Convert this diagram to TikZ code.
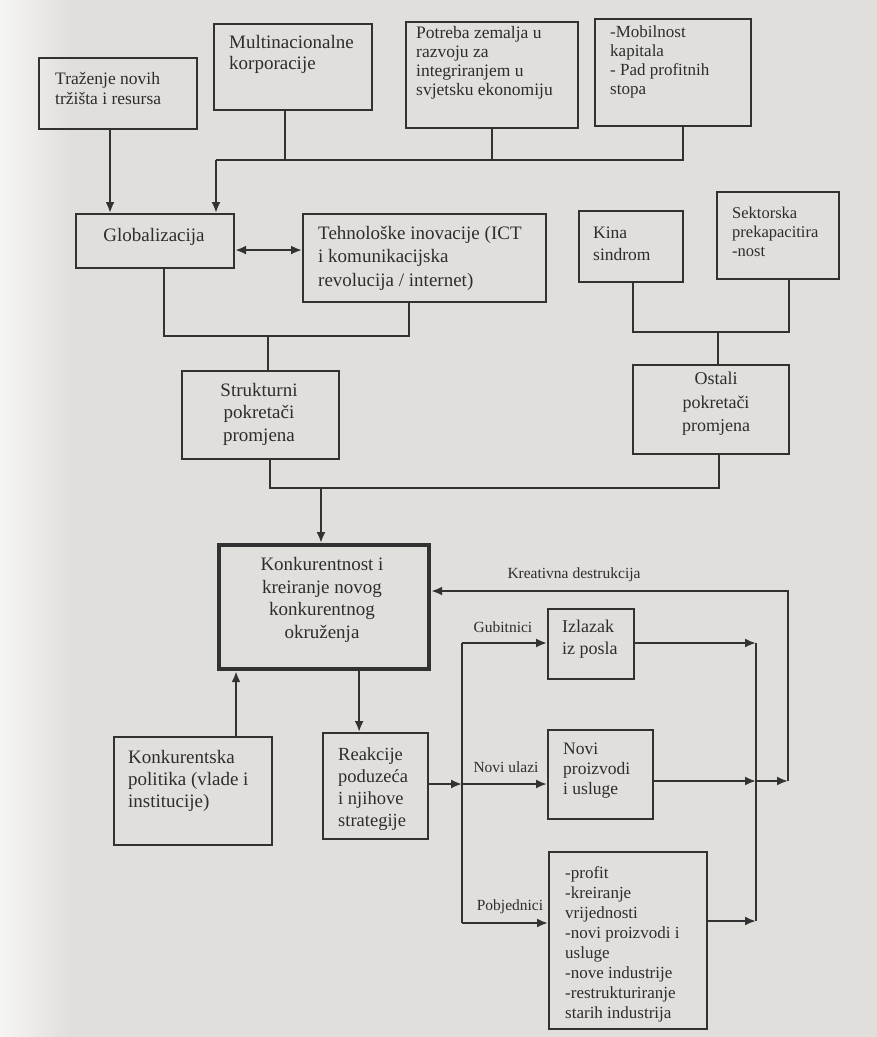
\documentclass[tikz,border=0pt]{standalone}
\usepackage{fontspec}
\setmainfont{Liberation Serif}
\usetikzlibrary{arrows.meta,calc}
\definecolor{bgc}{RGB}{225,223,219}
\definecolor{linec}{RGB}{50,50,50}
\definecolor{txtc}{RGB}{45,45,45}
\newcommand\myfs[2]{\fontsize{#1}{#2}\selectfont}
\tikzset{
  box/.style={draw=linec, line width=2.1pt, inner sep=0pt, anchor=north west},
  thickbox/.style={box, line width=4.2pt},
  txt/.style={inner sep=0pt, text=txtc, align=left, anchor=west},
  ctxt/.style={inner sep=0pt, text=txtc, align=center, anchor=center},
  lbl/.style={inner sep=0pt, text=txtc, font=\myfs{15.5}{18}},
  conn/.style={draw=linec, line width=2.1pt},
  arr/.style={conn, -{Latex[length=11pt,width=9pt]}},
  arrtwo/.style={conn, {Latex[length=11pt,width=9pt]}-{Latex[length=11pt,width=9pt]}}
}
\begin{document}
\begin{tikzpicture}[x=1pt,y=-1pt]
\fill[bgc] (0,0) rectangle (877,1037);
\shade[left color=white!70!bgc, right color=bgc] (0,0) rectangle (70,1037);
\useasboundingbox (0,0) rectangle (877,1037);

% boxes
\node[box, minimum width=158pt, minimum height=71pt] (traz) at (38,57) {};
\node[box, minimum width=158pt, minimum height=86pt] (multi) at (213,23) {};
\node[box, minimum width=172pt, minimum height=106pt] (potreba) at (405,21) {};
\node[box, minimum width=156pt, minimum height=107pt] (mobil) at (594,18) {};
\node[box, minimum width=158pt, minimum height=54pt] (glob) at (75,213) {};
\node[box, minimum width=243pt, minimum height=88pt] (tehno) at (302,213) {};
\node[box, minimum width=104pt, minimum height=71pt] (kina) at (578,210) {};
\node[box, minimum width=122pt, minimum height=87pt] (sektor) at (716,191) {};
\node[box, minimum width=157pt, minimum height=88pt] (strukt) at (181,370) {};
\node[box, minimum width=156pt, minimum height=89pt] (ostali) at (632,364) {};
\node[thickbox, minimum width=210pt, minimum height=124pt] (konk) at (217,543) {};
\node[box, minimum width=86pt, minimum height=70pt] (izl) at (547,608) {};
\node[box, minimum width=105pt, minimum height=89pt] (novip) at (547,729) {};
\node[box, minimum width=105pt, minimum height=106pt] (reak) at (322,732) {};
\node[box, minimum width=158pt, minimum height=108pt] (kpol) at (113,736) {};
\node[box, minimum width=158pt, minimum height=177pt] (pobj) at (548,851) {};

% texts
\node[txt, font=\myfs{17.5}{20}] (traz-t) at (55,88) {Traženje novih\\tržišta i resursa};
\node[txt, font=\myfs{19}{21}] (multi-t) at (229,54) {Multinacionalne\\korporacije};
\node[txt, font=\myfs{17.5}{19}] (potreba-t) at (416,63) {Potreba zemalja u\\razvoju za\\integriranjem u\\svjetsku ekonomiju};
\node[txt, font=\myfs{17}{19}] (mobil-t) at (610,62) {-Mobilnost\\kapitala\\- Pad profitnih\\stopa};
\node[ctxt, font=\myfs{19}{22}] (glob-t) at (154,237) {Globalizacija};
\node[txt, font=\myfs{19}{23.5}] (tehno-t) at (318,258) {Tehnološke inovacije (ICT\\i komunikacijska\\revolucija / internet)};
\node[txt, font=\myfs{17.5}{22}] (kina-t) at (593,244) {Kina\\sindrom};
\node[txt, font=\myfs{16.5}{19}] (sektor-t) at (732,232) {Sektorska\\prekapacitira\\-nost};
\node[ctxt, font=\myfs{19}{22.5}] (strukt-t) at (259,414) {Strukturni\\pokretači\\promjena};
\node[ctxt, font=\myfs{18}{23.5}] (ostali-t) at (716,404) {Ostali\\pokretači\\promjena};
\node[ctxt, font=\myfs{19}{22.5}] (konk-t) at (322,600) {Konkurentnost i\\kreiranje novog\\konkurentnog\\okruženja};
\node[txt, font=\myfs{18}{22}] (izl-t) at (562,639) {Izlazak\\iz posla};
\node[txt, font=\myfs{17.5}{20}] (novip-t) at (563,771) {Novi\\proizvodi\\i usluge};
\node[txt, font=\myfs{18.5}{22}] (reak-t) at (338,789) {Reakcije\\poduzeća\\i njihove\\strategije};
\node[txt, font=\myfs{19}{22}] (kpol-t) at (128,781) {Konkurentska\\politika (vlade i\\institucije)};
\node[txt, font=\myfs{17}{20}] (pobj-t) at (565,944) {-profit\\-kreiranje\\vrijednosti\\-novi proizvodi i\\usluge\\-nove industrije\\-restrukturiranje\\starih industrija};

% labels
\node[lbl] (kreat) at (574,575) {Kreativna destrukcija};
\node[lbl] (gubit) at (503,627) {Gubitnici};
\node[lbl] (noviu) at (506,767) {Novi ulazi};
\node[lbl] (pobjl) at (510,907) {Pobjednici};

% junctions
\coordinate (j1) at (216,160);
\coordinate (j3) at (268,336);
\coordinate (j4) at (718,332);
\coordinate (j5) at (321,488);
\coordinate (j6) at (462,784);
\coordinate (jtop) at (462,643);
\coordinate (jbot) at (462,923);
\coordinate (k1) at (756,643);
\coordinate (k2) at (756,781);
\coordinate (k3) at (756,921);
\coordinate (o1) at (788,781);
\coordinate (o2) at (788,591);

% top connectors
\draw[arr] ([xshift=-8pt]traz.south) -- ([xshift=-8pt]traz.south |- glob.north);
\draw[conn] ([xshift=-8pt]multi.south) -- ([xshift=-8pt]multi.south |- j1);
\draw[conn] (potreba.south) -- (potreba.south |- j1);
\draw[conn] ([xshift=10pt]mobil.south) |- (j1);
\draw[arr] (j1) -- (j1 |- glob.north);
\draw[arrtwo] ([yshift=-9pt]glob.east) -- ([yshift=-9pt]glob.east -| tehno.west);
\draw[conn] ([xshift=9pt]glob.south) |- (j3) -| ([xshift=-16pt]tehno.south);
\draw[conn] (j3) -- (j3 |- strukt.north);
\draw[conn] ([xshift=2pt]kina.south) |- (j4) -| ([xshift=11pt]sektor.south);
\draw[conn] (j4) -- (j4 |- ostali.north);
\draw[conn] ([xshift=9.5pt]strukt.south) |- (j5) -| ([xshift=8pt]ostali.south);
\draw[arr] (j5) -- (j5 |- konk.north);

% middle
\draw[arr] ([xshift=35pt]konk.south) -- ([xshift=35pt]konk.south |- reak.north);
\draw[arr] ([xshift=43pt]kpol.north) -- ([xshift=43pt]kpol.north |- konk.south);
\draw[arr] (reak.east |- j6) -- (j6);
\draw[arr] (j6) -- (j6 -| novip.west);
\draw[conn] (jtop) -- (jbot);
\draw[arr] (jtop) -- (jtop -| izl.west);
\draw[arr] (jbot) -- (jbot -| pobj.west);

% right side
\draw[arr] (izl.east |- k1) -- (k1);
\draw[arr] (novip.east |- k2) -- (k2);
\draw[arr] (pobj.east |- k3) -- (k3);
\draw[conn] (k1) -- (k3);
\draw[arr] (k2) -- (o1);
\draw[arr] (o1) -- (o2) -- (o2 -| konk.east);
\end{tikzpicture}
\end{document}
